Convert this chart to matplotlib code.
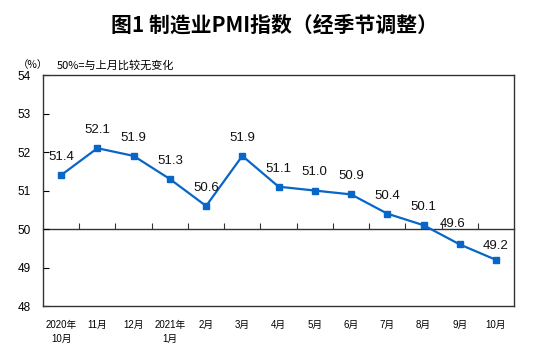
import matplotlib
matplotlib.use("Agg")
import matplotlib.pyplot as plt

plt.rcParams['font.family'] = ['Liberation Sans', 'Noto Sans CJK SC', 'DejaVu Sans']

months = ["2020年\n10月", "11月", "12月", "2021年\n1月", "2月", "3月", "4月",
          "5月", "6月", "7月", "8月", "9月", "10月"]
pmi = [51.4, 52.1, 51.9, 51.3, 50.6, 51.9, 51.1, 51.0, 50.9, 50.4, 50.1, 49.6, 49.2]

blue = "#0766c8"

fig = plt.figure(figsize=(5.54, 3.49), dpi=100)
ax = fig.add_axes([0.0776, 0.123, 0.8505, 0.662])

x = list(range(len(pmi)))
ax.plot(x, pmi, color=blue, lw=1.6, marker='s', ms=4.5, zorder=3)

# value labels above each point
for i, v in enumerate(pmi):
    dx, dy = 0, 13
    if i == 11:
        dx, dy = -5, 15
    elif i == 12:
        dx, dy = 0, 10
    ax.annotate(f"{v:.1f}", (i, v), xytext=(dx, dy), textcoords='offset points',
                ha='center', va='center', fontsize=9.5, color='#111111')

ax.set_xlim(-0.5, len(pmi) - 0.5)
ax.set_ylim(48, 54)
ax.set_yticks([48, 49, 50, 51, 52, 53, 54])
ax.tick_params(axis='y', direction='in', length=4, pad=9, labelsize=8.5, width=0.8)
ax.set_xticks(x)
ax.set_xticklabels(months, fontsize=7, linespacing=1.45)
ax.tick_params(axis='x', length=0, pad=10)
for s in ax.spines.values():
    s.set_color('#333333')
    s.set_linewidth(1.0)

# axis line at 50 with ticks between categories
sec = ax.secondary_xaxis(1 / 3)
sec.set_xticks([i + 0.5 for i in x[:-1]])
sec.tick_params(direction='in', length=4, labelbottom=False, width=0.8, color='#333333')
sec.spines['bottom'].set_color('#333333')
sec.spines['bottom'].set_linewidth(1.0)

fig.text(0.495, 0.928, "图1 制造业PMI指数（经季节调整）", ha='center', va='center',
         fontsize=15, fontweight='bold', family=['Noto Sans CJK SC', 'DejaVu Sans'])
fig.text(0.032, 0.814, "（%）", ha='left', va='center', fontsize=7.5,
         family=['Noto Sans CJK SC', 'DejaVu Sans'])
fig.text(0.103, 0.814, "50%=与上月比较无变化", ha='left', va='center', fontsize=8,
         family=['Noto Sans CJK SC', 'DejaVu Sans'])

fig.savefig("out.png", dpi=100)
